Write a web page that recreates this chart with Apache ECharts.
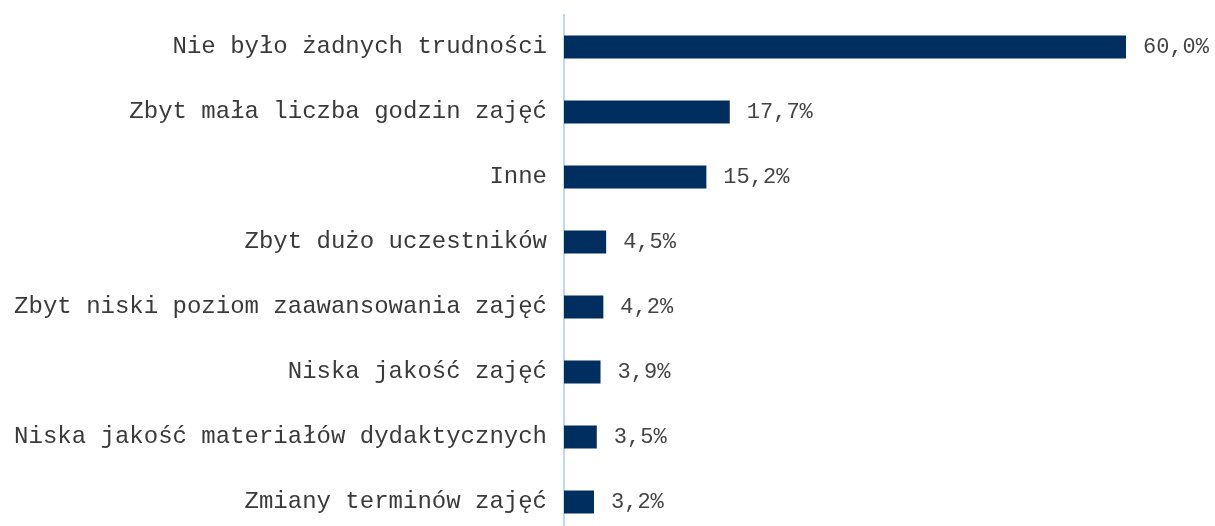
<!DOCTYPE html>
<html>
<head>
<meta charset="utf-8">
<script src="https://cdn.jsdelivr.net/npm/echarts@6/dist/echarts.min.js"></script>
<style>
  html, body { margin: 0; padding: 0; background: #fff; }
  #main { width: 1215px; height: 526px; }
</style>
</head>
<body>
<div id="main"></div>
<script>
const categories = [
  'Nie było żadnych trudności',
  'Zbyt mała liczba godzin zajęć',
  'Inne',
  'Zbyt dużo uczestników',
  'Zbyt niski poziom zaawansowania zajęć',
  'Niska jakość zajęć',
  'Niska jakość materiałów dydaktycznych',
  'Zmiany terminów zajęć'
];
const values = [60.0, 17.7, 15.2, 4.5, 4.2, 3.9, 3.5, 3.2];

const font = '"Courier New", "Liberation Mono", monospace';

const chart = echarts.init(document.getElementById('main'));
chart.setOption({
  animation: false,
  grid: {
    left: 564, right: 89, top: 14.5, bottom: -8.5,
    outerBoundsMode: 'none',
    containLabel: false
  },
  xAxis: {
    type: 'value',
    min: 0,
    max: 60,
    show: false
  },
  yAxis: {
    type: 'category',
    data: categories,
    inverse: true,
    axisLine: { show: true, lineStyle: { color: '#a9cbea', width: 1.5 } },
    axisTick: { show: false },
    axisLabel: {
      margin: 17,
      color: '#3a3a3a',
      fontFamily: font,
      fontSize: 24
    }
  },
  series: [{
    type: 'bar',
    data: values,
    barWidth: 23,
    itemStyle: { color: '#002f5f' },
    label: {
      show: true,
      position: 'right',
      distance: 17,
      color: '#444444',
      fontFamily: font,
      fontSize: 22,
      formatter: p => p.value.toFixed(1).replace('.', ',') + '%'
    }
  }]
});
</script>
</body>
</html>
